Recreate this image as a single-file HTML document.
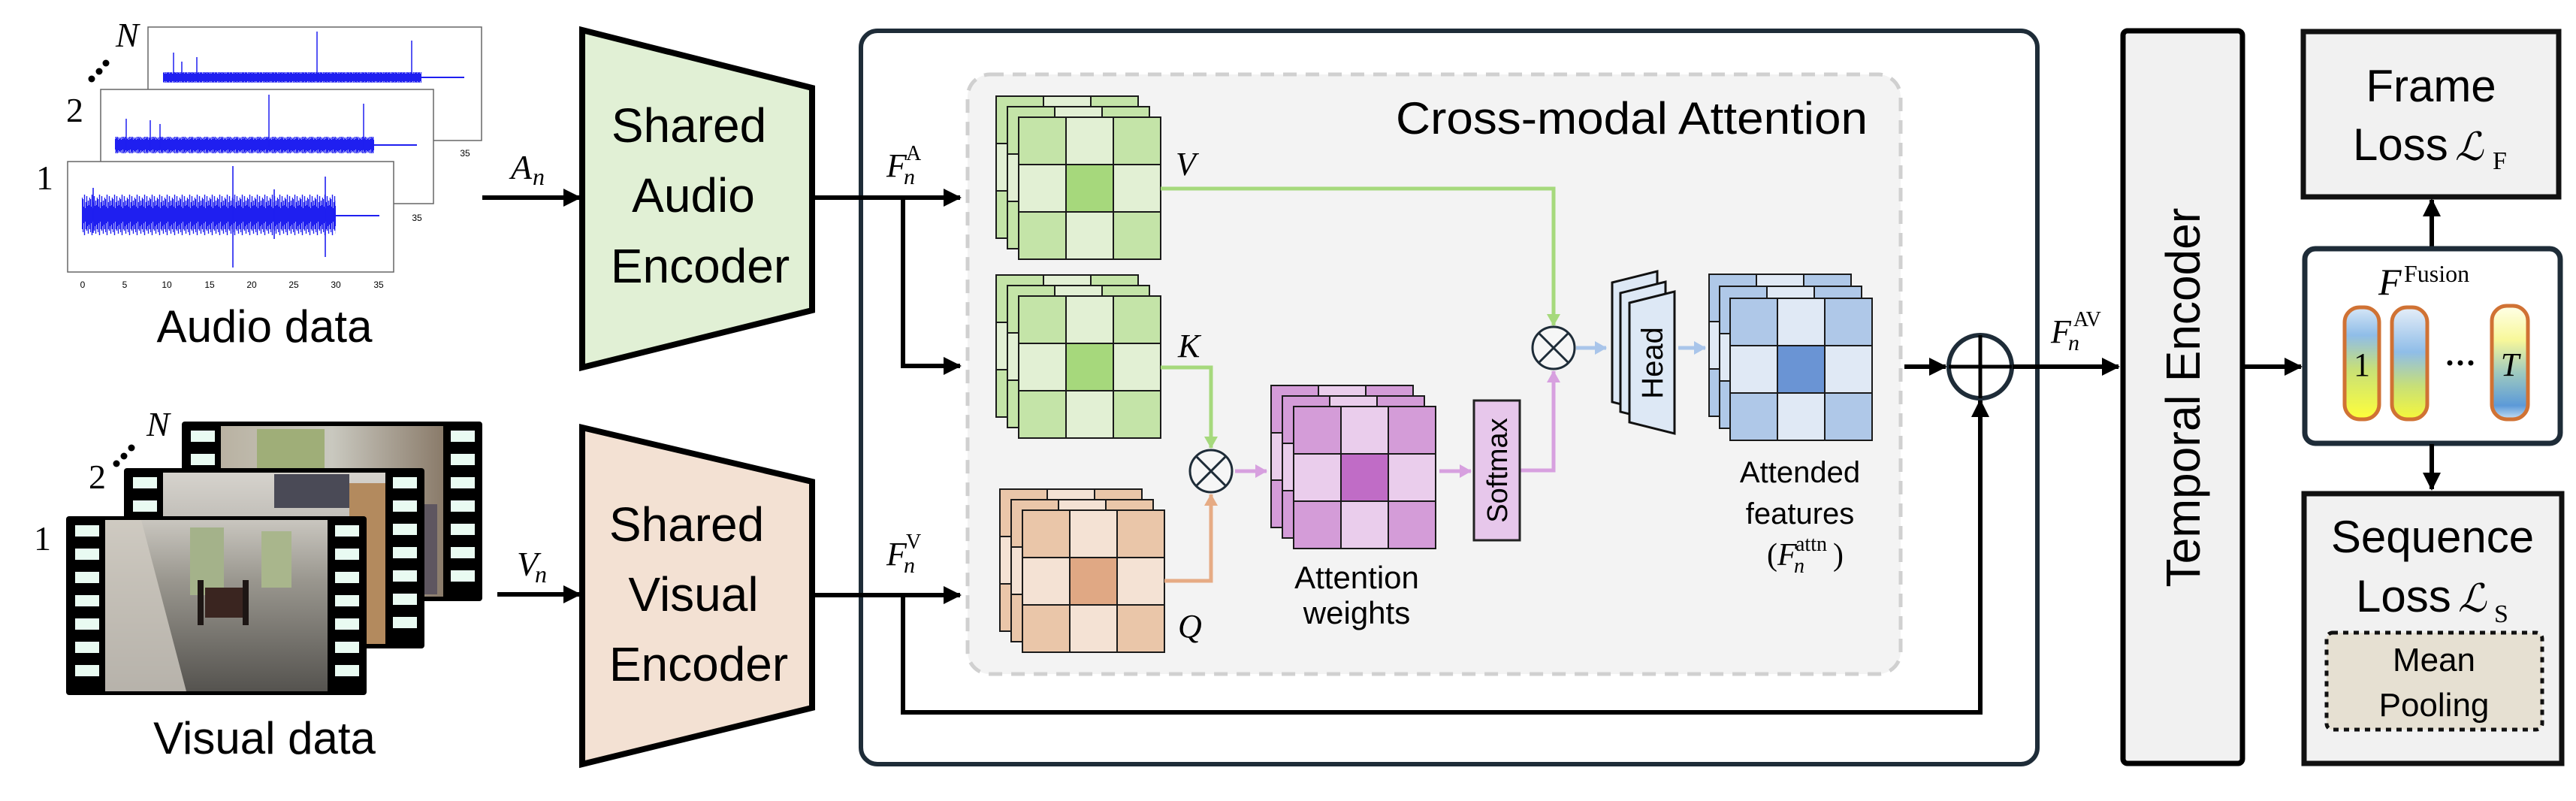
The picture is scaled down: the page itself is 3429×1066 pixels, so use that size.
<!DOCTYPE html>
<html><head><meta charset="utf-8"><style>
html,body{margin:0;padding:0;background:#fff;}
svg{display:block;}
text{font-family:"Liberation Sans",sans-serif;fill:#000;}
.m{font-family:"Liberation Serif",serif;font-style:italic;}
.r{font-family:"Liberation Serif",serif;}
.L{font-family:"DejaVu Serif",serif;font-style:italic;}
</style></head><body>
<svg width="3429" height="1066" viewBox="0 0 3429 1066" xmlns="http://www.w3.org/2000/svg">
<defs>
<marker id="ab" markerUnits="userSpaceOnUse" markerWidth="26" markerHeight="26" refX="22" refY="12" orient="auto"><path d="M0,0 L24,12 L0,24 z" fill="#000"/></marker>
<marker id="ag" markerUnits="userSpaceOnUse" markerWidth="20" markerHeight="20" refX="15" refY="9" orient="auto"><path d="M0,0 L16,9 L0,18 z" fill="#a6d97c"/></marker>
<marker id="ao" markerUnits="userSpaceOnUse" markerWidth="20" markerHeight="20" refX="15" refY="9" orient="auto"><path d="M0,0 L16,9 L0,18 z" fill="#e6ab84"/></marker>
<marker id="ap" markerUnits="userSpaceOnUse" markerWidth="20" markerHeight="20" refX="15" refY="9" orient="auto"><path d="M0,0 L16,9 L0,18 z" fill="#d7a0df"/></marker>
<marker id="al" markerUnits="userSpaceOnUse" markerWidth="20" markerHeight="20" refX="15" refY="9" orient="auto"><path d="M0,0 L16,9 L0,18 z" fill="#a9c5ea"/></marker>

<pattern id="w1" width="10" height="80" patternUnits="userSpaceOnUse" patternTransform="translate(0,247)">
<g stroke="#1f1ff0" stroke-width="1.4">
<line x1="0.5" y1="18" x2="0.5" y2="62"/><line x1="1.5" y1="28" x2="1.5" y2="50"/><line x1="2.5" y1="12" x2="2.5" y2="66"/><line x1="3.5" y1="30" x2="3.5" y2="48"/><line x1="4.5" y1="22" x2="4.5" y2="58"/><line x1="5.5" y1="14" x2="5.5" y2="60"/><line x1="6.5" y1="27" x2="6.5" y2="54"/><line x1="7.5" y1="20" x2="7.5" y2="64"/><line x1="8.5" y1="26" x2="8.5" y2="52"/><line x1="9.5" y1="16" x2="9.5" y2="58"/>
</g></pattern>
<pattern id="w2" width="10" height="80" patternUnits="userSpaceOnUse" patternTransform="translate(0,153)">
<g stroke="#1f1ff0" stroke-width="1.4">
<line x1="0.5" y1="30" x2="0.5" y2="50"/><line x1="1.5" y1="33" x2="1.5" y2="47"/><line x1="2.5" y1="27" x2="2.5" y2="52"/><line x1="3.5" y1="32" x2="3.5" y2="46"/><line x1="4.5" y1="29" x2="4.5" y2="51"/><line x1="5.5" y1="31" x2="5.5" y2="49"/><line x1="6.5" y1="28" x2="6.5" y2="53"/><line x1="7.5" y1="33" x2="7.5" y2="47"/><line x1="8.5" y1="30" x2="8.5" y2="50"/><line x1="9.5" y1="32" x2="9.5" y2="48"/>
</g></pattern>
<pattern id="w3" width="10" height="80" patternUnits="userSpaceOnUse" patternTransform="translate(0,63)">
<g stroke="#1f1ff0" stroke-width="1.4">
<line x1="0.5" y1="33" x2="0.5" y2="47"/><line x1="1.5" y1="35" x2="1.5" y2="45"/><line x1="2.5" y1="31" x2="2.5" y2="48"/><line x1="3.5" y1="34" x2="3.5" y2="46"/><line x1="4.5" y1="32" x2="4.5" y2="47"/><line x1="5.5" y1="35" x2="5.5" y2="45"/><line x1="6.5" y1="33" x2="6.5" y2="48"/><line x1="7.5" y1="34" x2="7.5" y2="46"/><line x1="8.5" y1="32" x2="8.5" y2="47"/><line x1="9.5" y1="35" x2="9.5" y2="45"/>
</g></pattern>

<linearGradient id="ph1" x1="0" y1="0" x2="0" y2="1"><stop offset="0" stop-color="#c9c6bf"/><stop offset="0.35" stop-color="#9a978f"/><stop offset="1" stop-color="#55534f"/></linearGradient>
<linearGradient id="ph2" x1="0" y1="0" x2="0" y2="1"><stop offset="0" stop-color="#d6d3cd"/><stop offset="1" stop-color="#8a8882"/></linearGradient>
<linearGradient id="ph3" x1="0" y1="0" x2="1" y2="0"><stop offset="0" stop-color="#b9b2a2"/><stop offset="0.5" stop-color="#c9c8bf"/><stop offset="1" stop-color="#8a7b6a"/></linearGradient>
<linearGradient id="b1" x1="0" y1="0" x2="0" y2="1"><stop offset="0" stop-color="#d6e6f6"/><stop offset="0.25" stop-color="#8fbde8"/><stop offset="0.55" stop-color="#c7df78"/><stop offset="1" stop-color="#ffff3a"/></linearGradient>
<linearGradient id="b2" x1="0" y1="0" x2="0" y2="1"><stop offset="0" stop-color="#e6eef8"/><stop offset="0.4" stop-color="#8fbde8"/><stop offset="0.7" stop-color="#c7df78"/><stop offset="1" stop-color="#f6f83a"/></linearGradient>
<linearGradient id="b3" x1="0" y1="0" x2="0" y2="1"><stop offset="0" stop-color="#ffffe8"/><stop offset="0.3" stop-color="#f8f89a"/><stop offset="0.6" stop-color="#9cc8c0"/><stop offset="0.88" stop-color="#5c9ad8"/><stop offset="1" stop-color="#c8e0f4"/></linearGradient>

<g id="gG" stroke="#1a1a1a" stroke-width="2">
<rect x="0" y="0" width="63" height="63" fill="#c4e4a8"/><rect x="63" y="0" width="63" height="63" fill="#e2f0d4"/><rect x="126" y="0" width="63" height="63" fill="#c4e4a8"/>
<rect x="0" y="63" width="63" height="63" fill="#e2f0d4"/><rect x="63" y="63" width="63" height="63" fill="#a6d87c"/><rect x="126" y="63" width="63" height="63" fill="#e2f0d4"/>
<rect x="0" y="126" width="63" height="63" fill="#c4e4a8"/><rect x="63" y="126" width="63" height="63" fill="#e2f0d4"/><rect x="126" y="126" width="63" height="63" fill="#c4e4a8"/>
</g>
<g id="gO" stroke="#1a1a1a" stroke-width="2">
<rect x="0" y="0" width="63" height="63" fill="#eac6a9"/><rect x="63" y="0" width="63" height="63" fill="#f4e2d4"/><rect x="126" y="0" width="63" height="63" fill="#eac6a9"/>
<rect x="0" y="63" width="63" height="63" fill="#f4e2d4"/><rect x="63" y="63" width="63" height="63" fill="#e0a884"/><rect x="126" y="63" width="63" height="63" fill="#f4e2d4"/>
<rect x="0" y="126" width="63" height="63" fill="#eac6a9"/><rect x="63" y="126" width="63" height="63" fill="#f4e2d4"/><rect x="126" y="126" width="63" height="63" fill="#eac6a9"/>
</g>
<g id="gP" stroke="#1a1a1a" stroke-width="2">
<rect x="0" y="0" width="63" height="63" fill="#d49cd8"/><rect x="63" y="0" width="63" height="63" fill="#eacdec"/><rect x="126" y="0" width="63" height="63" fill="#d49cd8"/>
<rect x="0" y="63" width="63" height="63" fill="#eacdec"/><rect x="63" y="63" width="63" height="63" fill="#c06cc6"/><rect x="126" y="63" width="63" height="63" fill="#eacdec"/>
<rect x="0" y="126" width="63" height="63" fill="#d49cd8"/><rect x="63" y="126" width="63" height="63" fill="#eacdec"/><rect x="126" y="126" width="63" height="63" fill="#d49cd8"/>
</g>
<g id="gB" stroke="#1a1a1a" stroke-width="2">
<rect x="0" y="0" width="63" height="63" fill="#afc8e8"/><rect x="63" y="0" width="63" height="63" fill="#e0e9f5"/><rect x="126" y="0" width="63" height="63" fill="#afc8e8"/>
<rect x="0" y="63" width="63" height="63" fill="#e0e9f5"/><rect x="63" y="63" width="63" height="63" fill="#6a94d4"/><rect x="126" y="63" width="63" height="63" fill="#e0e9f5"/>
<rect x="0" y="126" width="63" height="63" fill="#afc8e8"/><rect x="63" y="126" width="63" height="63" fill="#e0e9f5"/><rect x="126" y="126" width="63" height="63" fill="#afc8e8"/>
</g>
<g id="holes" fill="#e9fbf2">
<rect x="12" y="12" width="32" height="15"/><rect x="12" y="43" width="32" height="15"/><rect x="12" y="74" width="32" height="15"/><rect x="12" y="105" width="32" height="15"/><rect x="12" y="136" width="32" height="15"/><rect x="12" y="167" width="32" height="15"/><rect x="12" y="198" width="32" height="15"/>
<rect x="358" y="12" width="32" height="15"/><rect x="358" y="43" width="32" height="15"/><rect x="358" y="74" width="32" height="15"/><rect x="358" y="105" width="32" height="15"/><rect x="358" y="136" width="32" height="15"/><rect x="358" y="167" width="32" height="15"/><rect x="358" y="198" width="32" height="15"/>
</g>
</defs>

<!-- ===== Audio data ===== -->
<g>
<rect x="197" y="36" width="444" height="151" fill="#fff" stroke="#666" stroke-width="1.5"/>
<rect x="217" y="96" width="344" height="14" fill="url(#w3)"/>
<line x1="561" y1="103" x2="618" y2="103" stroke="#1f1ff0" stroke-width="2"/>
<g stroke="#1f1ff0" stroke-width="1.5"><line x1="422" y1="42" x2="422" y2="106"/><line x1="548" y1="54" x2="548" y2="106"/><line x1="262" y1="76" x2="262" y2="106"/><line x1="231" y1="70" x2="231" y2="106"/><line x1="242" y1="82" x2="242" y2="106"/></g>
<text x="619" y="208" font-size="12" fill="#444" text-anchor="middle">35</text>

<rect x="134" y="119" width="443" height="152" fill="#fff" stroke="#666" stroke-width="1.5"/>
<rect x="153" y="182" width="345" height="22" fill="url(#w2)"/>
<line x1="498" y1="193" x2="555" y2="193" stroke="#1f1ff0" stroke-width="2"/>
<g stroke="#1f1ff0" stroke-width="1.5"><line x1="358" y1="126" x2="358" y2="196"/><line x1="484" y1="138" x2="484" y2="200"/><line x1="200" y1="160" x2="200" y2="200"/><line x1="213" y1="165" x2="213" y2="200"/><line x1="168" y1="158" x2="168" y2="200"/></g>
<text x="555" y="294" font-size="12" fill="#444" text-anchor="middle">35</text>

<rect x="90" y="215" width="434" height="147" fill="#fff" stroke="#666" stroke-width="1.5"/>
<rect x="109" y="257" width="338" height="60" fill="url(#w1)"/>
<line x1="447" y1="287" x2="505" y2="287" stroke="#1f1ff0" stroke-width="2"/>
<g stroke="#1f1ff0" stroke-width="1.6"><line x1="310" y1="221" x2="310" y2="356"/><line x1="433" y1="235" x2="433" y2="342"/><line x1="124" y1="250" x2="124" y2="310"/><line x1="365" y1="252" x2="365" y2="318"/></g>
<g font-size="12" fill="#444" text-anchor="middle">
<text x="110" y="383">0</text><text x="166" y="383">5</text><text x="222" y="383">10</text><text x="279" y="383">15</text><text x="335" y="383">20</text><text x="391" y="383">25</text><text x="447" y="383">30</text><text x="504" y="383">35</text>
</g>
<text x="48" y="252" font-size="46" class="r">1</text>
<text x="88" y="162" font-size="46" class="r">2</text>
<text x="154" y="62" font-size="46" class="m">N</text>
<circle cx="122" cy="105" r="4.5"/><circle cx="132" cy="95" r="4.5"/><circle cx="141" cy="84" r="4.5"/>
<text x="352" y="455" font-size="60" text-anchor="middle">Audio data</text>
</g>

<!-- ===== Visual data ===== -->
<g>
<g transform="translate(242,561)"><rect width="400" height="239" rx="4" fill="#000"/><rect x="52" y="6" width="296" height="227" fill="url(#ph3)"/><rect x="100" y="10" width="90" height="55" fill="#9fae78"/><rect x="250" y="110" width="90" height="120" fill="#5e5660"/><use href="#holes"/></g>
<g transform="translate(165,623)"><rect width="400" height="240" rx="4" fill="#000"/><rect x="52" y="6" width="296" height="228" fill="url(#ph2)"/><rect x="200" y="8" width="100" height="45" fill="#4a4a56"/><rect x="300" y="20" width="48" height="214" fill="#b38a5e"/><use href="#holes"/></g>
<g transform="translate(88,687)"><rect width="400" height="238" rx="4" fill="#000"/><rect x="52" y="5" width="296" height="228" fill="url(#ph1)"/>
<polygon points="52,5 100,5 160,233 52,233" fill="#cfcac2" opacity="0.8"/>
<rect x="165" y="15" width="45" height="90" fill="#a4b28a"/><rect x="260" y="20" width="40" height="75" fill="#a9b68c"/><rect x="185" y="95" width="50" height="40" fill="#3a2520"/><rect x="175" y="85" width="8" height="60" fill="#1d1614"/><rect x="235" y="85" width="8" height="60" fill="#1d1614"/><use href="#holes"/></g>
<text x="45" y="732" font-size="46" class="r">1</text>
<text x="118" y="650" font-size="46" class="r">2</text>
<text x="195" y="580" font-size="46" class="m">N</text>
<circle cx="155" cy="617" r="4.5"/><circle cx="165" cy="607" r="4.5"/><circle cx="175" cy="596" r="4.5"/>
<text x="352" y="1003" font-size="60" text-anchor="middle">Visual data</text>
</g>

<!-- ===== Encoders ===== -->
<polygon points="775,40 1081,117 1081,413 775,489" fill="#e1f0d5" stroke="#000" stroke-width="8" stroke-linejoin="miter"/>
<g font-size="64" text-anchor="middle"><text x="917" y="189">Shared</text><text x="923" y="282">Audio</text><text x="932" y="376">Encoder</text></g>
<polygon points="775,569 1081,641 1081,942 775,1017" fill="#f3e1d3" stroke="#000" stroke-width="8"/>
<g font-size="64" text-anchor="middle"><text x="914" y="720">Shared</text><text x="923" y="813">Visual</text><text x="930" y="906">Encoder</text></g>

<line x1="642" y1="263" x2="772" y2="263" stroke="#000" stroke-width="6" marker-end="url(#ab)"/>
<text x="680" y="238" font-size="46" class="m">A</text><text x="709" y="246" font-size="32" class="m">n</text>
<line x1="662" y1="791" x2="772" y2="791" stroke="#000" stroke-width="6" marker-end="url(#ab)"/>
<text x="688" y="766" font-size="46" class="m">V</text><text x="712" y="775" font-size="32" class="m">n</text>

<!-- ===== Main box ===== -->
<rect x="1146" y="41" width="1566" height="976" rx="22" fill="#fff" stroke="#1e2c38" stroke-width="6"/>
<rect x="1288" y="99" width="1242" height="798" rx="30" fill="#f3f3f3" stroke="#d0d0d0" stroke-width="5" stroke-dasharray="18,12"/>
<text x="1858" y="178" font-size="60" textLength="628" lengthAdjust="spacingAndGlyphs">Cross-modal Attention</text>

<line x1="1081" y1="263" x2="1278" y2="263" stroke="#000" stroke-width="6" marker-end="url(#ab)"/>
<polyline points="1202,263 1202,487 1278,487" fill="none" stroke="#000" stroke-width="6" marker-end="url(#ab)"/>
<text x="1180" y="235" font-size="44" class="m">F</text><text x="1203" y="245" font-size="30" class="m">n</text><text x="1206" y="213" font-size="28" class="r">A</text>
<line x1="1081" y1="792" x2="1278" y2="792" stroke="#000" stroke-width="6" marker-end="url(#ab)"/>
<polyline points="1202,792 1202,948 2636,948 2636,533" fill="none" stroke="#000" stroke-width="6" marker-end="url(#ab)"/>
<text x="1180" y="752" font-size="44" class="m">F</text><text x="1203" y="762" font-size="30" class="m">n</text><text x="1206" y="730" font-size="28" class="r">V</text>

<use href="#gG" x="1326" y="128"/><use href="#gG" x="1341" y="142"/><use href="#gG" x="1356" y="156"/>
<use href="#gG" x="1326" y="366"/><use href="#gG" x="1341" y="380"/><use href="#gG" x="1356" y="394"/>
<use href="#gO" x="1331" y="651"/><use href="#gO" x="1346" y="665"/><use href="#gO" x="1361" y="679"/>
<use href="#gP" x="1692" y="513"/><use href="#gP" x="1707" y="527"/><use href="#gP" x="1722" y="541"/>
<use href="#gB" x="2275" y="365"/><use href="#gB" x="2289" y="381"/><use href="#gB" x="2303" y="397"/>

<text x="1565" y="233" font-size="44" class="m">V</text>
<text x="1568" y="475" font-size="44" class="m">K</text>
<text x="1568" y="848" font-size="44" class="m">Q</text>

<polyline points="1545,251 2068,251 2068,433" fill="none" stroke="#a6d97c" stroke-width="5" marker-end="url(#ag)"/>
<polyline points="1545,489 1612,489 1612,596" fill="none" stroke="#a6d97c" stroke-width="5" marker-end="url(#ag)"/>
<polyline points="1550,773 1612,773 1612,658" fill="none" stroke="#e6ab84" stroke-width="5" marker-end="url(#ao)"/>
<line x1="1644" y1="627" x2="1686" y2="627" stroke="#d7a0df" stroke-width="5" marker-end="url(#ap)"/>
<line x1="1916" y1="627" x2="1958" y2="627" stroke="#d7a0df" stroke-width="5" marker-end="url(#ap)"/>
<polyline points="2024,626 2068,626 2068,494" fill="none" stroke="#d7a0df" stroke-width="5" marker-end="url(#ap)"/>
<line x1="2098" y1="463" x2="2138" y2="463" stroke="#a9c5ea" stroke-width="5" marker-end="url(#al)"/>
<line x1="2234" y1="463" x2="2270" y2="463" stroke="#a9c5ea" stroke-width="5" marker-end="url(#al)"/>

<g fill="#f6f6f6" stroke="#1e2c38" stroke-width="3">
<circle cx="1612" cy="627" r="28"/>
<line x1="1592" y1="607" x2="1632" y2="647"/><line x1="1632" y1="607" x2="1592" y2="647"/>
<circle cx="2068" cy="463" r="28"/>
<line x1="2048" y1="443" x2="2088" y2="483"/><line x1="2088" y1="443" x2="2048" y2="483"/>
</g>

<text x="1806" y="783" font-size="42" text-anchor="middle">Attention</text>
<text x="1806" y="830" font-size="42" text-anchor="middle">weights</text>

<rect x="1962" y="533" width="61" height="186" fill="#e7c7eb" stroke="#222" stroke-width="3"/>
<text transform="translate(2006,626) rotate(-90)" font-size="38" text-anchor="middle">Softmax</text>

<g fill="#dde8f5" stroke="#111" stroke-width="3">
<polygon points="2146,376 2206,361 2206,550 2146,535"/>
<polygon points="2157,390 2217,375 2217,563 2157,548"/>
<polygon points="2169,403 2229,388 2229,577 2169,562"/>
</g>
<text transform="translate(2213,483) rotate(-90)" font-size="40" text-anchor="middle">Head</text>

<text x="2396" y="642" font-size="40" text-anchor="middle">Attended</text>
<text x="2396" y="697" font-size="40" text-anchor="middle">features</text>
<text x="2352" y="752" font-size="42" class="r">(</text><text x="2366" y="752" font-size="42" class="m">F</text><text x="2388" y="762" font-size="28" class="m">n</text><text x="2390" y="733" font-size="28" class="r">attn</text><text x="2440" y="752" font-size="42" class="r">)</text>

<line x1="2535" y1="488" x2="2590" y2="488" stroke="#000" stroke-width="6" marker-end="url(#ab)"/>
<circle cx="2636" cy="488" r="42" fill="#fff" stroke="#1e2c38" stroke-width="6"/>
<line x1="2594" y1="488" x2="2678" y2="488" stroke="#000" stroke-width="5"/>
<line x1="2636" y1="446" x2="2636" y2="530" stroke="#000" stroke-width="5"/>
<line x1="2679" y1="488" x2="2820" y2="488" stroke="#000" stroke-width="6" marker-end="url(#ab)"/>
<text x="2730" y="456" font-size="44" class="m">F</text><text x="2753" y="466" font-size="30" class="m">n</text><text x="2760" y="434" font-size="28" class="r">AV</text>

<rect x="2826" y="41" width="159" height="975" rx="6" fill="#f1f1f1" stroke="#000" stroke-width="7"/>
<text transform="translate(2928,529) rotate(-90)" font-size="64" text-anchor="middle" textLength="505" lengthAdjust="spacingAndGlyphs">Temporal Encoder</text>
<line x1="2988" y1="488" x2="3063" y2="488" stroke="#000" stroke-width="6" marker-end="url(#ab)"/>

<rect x="3066" y="42" width="340" height="220" fill="#f1f1f1" stroke="#111" stroke-width="7"/>
<text x="3236" y="135" font-size="60" text-anchor="middle">Frame</text>
<text x="3132" y="213" font-size="60">Loss</text><text x="3268" y="213" font-size="52" class="L">ℒ</text><text x="3318" y="225" font-size="34" class="r">F</text>
<line x1="3237" y1="328" x2="3237" y2="266" stroke="#000" stroke-width="6" marker-end="url(#ab)"/>

<rect x="3068" y="331" width="340" height="259" rx="14" fill="#fff" stroke="#1e2c38" stroke-width="7"/>
<text x="3166" y="392" font-size="50" class="m">F</text><text x="3200" y="375" font-size="32" class="r">Fusion</text>
<rect x="3121" y="409" width="46" height="149" rx="20" fill="url(#b1)" stroke="#d07234" stroke-width="5"/>
<rect x="3184" y="409" width="47" height="149" rx="20" fill="url(#b2)" stroke="#d07234" stroke-width="5"/>
<rect x="3317" y="407" width="48" height="151" rx="20" fill="url(#b3)" stroke="#d07234" stroke-width="5"/>
<text x="3144" y="500" font-size="44" class="r" text-anchor="middle">1</text>
<text x="3341" y="500" font-size="44" class="m" text-anchor="middle">T</text>
<circle cx="3261" cy="483" r="3.5"/><circle cx="3275" cy="483" r="3.5"/><circle cx="3289" cy="483" r="3.5"/>
<line x1="3237" y1="591" x2="3237" y2="651" stroke="#000" stroke-width="6" marker-end="url(#ab)"/>

<rect x="3067" y="657" width="343" height="359" fill="#f1f1f1" stroke="#111" stroke-width="7"/>
<text x="3238" y="735" font-size="60" text-anchor="middle">Sequence</text>
<text x="3136" y="814" font-size="60">Loss</text><text x="3272" y="814" font-size="52" class="L">ℒ</text><text x="3320" y="828" font-size="34" class="r">S</text>
<rect x="3097" y="842" width="287" height="129" rx="8" fill="#e6e0d2" stroke="#111" stroke-width="5" stroke-dasharray="7,7"/>
<text x="3240" y="893" font-size="44" text-anchor="middle">Mean</text>
<text x="3240" y="953" font-size="44" text-anchor="middle">Pooling</text>
</svg>
</body></html>
